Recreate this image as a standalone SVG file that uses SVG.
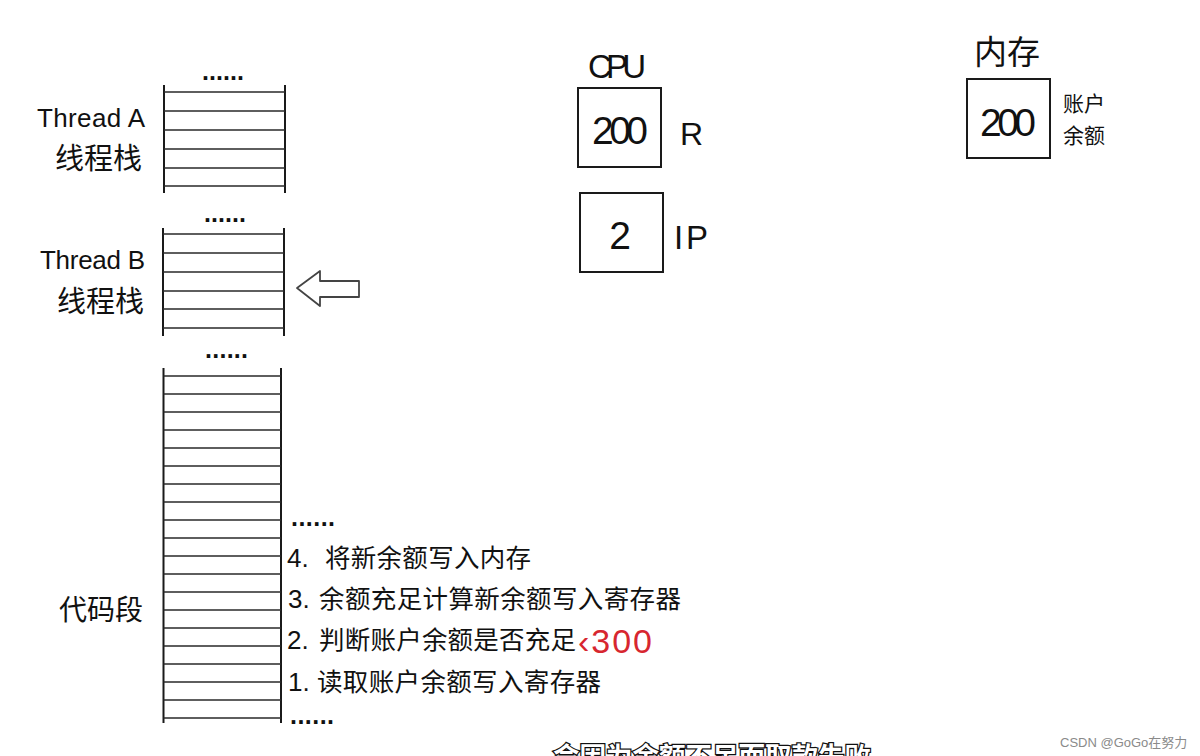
<svg xmlns="http://www.w3.org/2000/svg" width="1200" height="756" viewBox="0 0 1200 756">
<style>
.bg{fill:#ffffff}
.v{stroke:#1a1a1a;stroke-width:2;fill:none}
.h{stroke:#2a2a2a;stroke-width:1.6;fill:none}
.box{fill:#ffffff;stroke:#1a1a1a;stroke-width:2}
.lat{font-family:"Liberation Sans","DejaVu Sans",sans-serif;fill:#111}
.cjk{font-family:"Noto Sans CJK SC","Noto Sans",sans-serif;fill:#111}
.dots{font-family:"Liberation Sans",sans-serif;font-weight:bold;font-size:25px;fill:#111}
.step{font-family:"Liberation Sans","Noto Sans CJK SC",sans-serif;font-size:26px;fill:#111}
.stepc{font-family:"Noto Sans CJK SC",sans-serif;font-size:25.5px;fill:#111}
</style>
<rect class="bg" x="0" y="0" width="1200" height="756"/>

<g id="threadA">
  <text class="lat" x="37" y="127" font-size="26" textLength="108">Thread A</text>
  <text class="cjk" x="55" y="169" font-size="29">线程栈</text>
  <text class="dots" x="202" y="80" textLength="42">......</text>
  <line class="v" x1="164" y1="85" x2="164" y2="193"/>
  <line class="v" x1="285" y1="85" x2="285" y2="193"/>
  <path class="h" d="M164 92H285M164 111H285M164 130H285M164 149H285M164 168H285M164 186H285"/>
</g>

<g id="threadB">
  <text class="lat" x="40" y="269" font-size="26" textLength="105">Thread B</text>
  <text class="cjk" x="57" y="312" font-size="29">线程栈</text>
  <text class="dots" x="204" y="222" textLength="42">......</text>
  <line class="v" x1="163" y1="228" x2="163" y2="336"/>
  <line class="v" x1="284" y1="228" x2="284" y2="336"/>
  <path class="h" d="M163 234H284M163 253H284M163 272H284M163 291H284M163 309H284M163 328H284"/>
  <text class="dots" x="205" y="358" textLength="43">......</text>
</g>

<g id="code">
  <text class="cjk" x="59" y="620" font-size="28">代码段</text>
  <line class="v" x1="163.5" y1="368" x2="163.5" y2="723"/>
  <line class="v" x1="281" y1="368" x2="281" y2="723"/>
  <path class="h" d="M163.5 376H281M163.5 394H281M163.5 412H281M163.5 430H281M163.5 448H281M163.5 466H281M163.5 484H281M163.5 502H281M163.5 520H281M163.5 538H281M163.5 556H281M163.5 574H281M163.5 592H281M163.5 610H281M163.5 628H281M163.5 646H281M163.5 664H281M163.5 682H281M163.5 700H281M163.5 718H281"/>
  <text class="dots" x="291" y="526" textLength="44">......</text>
  <text class="step" x="287" y="567">4.</text>
  <text class="stepc" x="325" y="567" textLength="206" lengthAdjust="spacing">将新余额写入内存</text>
  <text class="step" x="288" y="608">3.</text>
  <text class="stepc" x="319" y="608" textLength="362" lengthAdjust="spacing">余额充足计算新余额写入寄存器</text>
  <text class="step" x="287" y="649">2.</text>
  <text class="stepc" x="319" y="649" textLength="257" lengthAdjust="spacing">判断账户余额是否充足</text>
  <text class="lat" x="578" y="653" font-size="34" style="fill:#d7262f" textLength="74">‹300</text>
  <text class="step" x="288" y="691">1.</text>
  <text class="stepc" x="317" y="691" textLength="284" lengthAdjust="spacing">读取账户余额写入寄存器</text>
  <text class="dots" x="290" y="724" textLength="44">......</text>
</g>

<g id="cpu">
  <text class="lat" x="588" y="78" font-size="33" textLength="58">CPU</text>
  <rect class="box" x="578" y="88" width="83" height="79"/>
  <text class="lat" x="620" y="144" font-size="39" text-anchor="middle" textLength="56">200</text>
  <text class="lat" x="680" y="145" font-size="32">R</text>
  <rect class="box" x="580" y="193" width="83" height="79"/>
  <text class="lat" x="620" y="249" font-size="39" text-anchor="middle">2</text>
  <text class="lat" x="674" y="249" font-size="33" textLength="34">IP</text>
</g>

<g id="memory">
  <text class="cjk" x="974" y="64" font-size="33">内存</text>
  <rect class="box" x="967" y="79" width="83" height="79"/>
  <text class="lat" x="1008" y="136" font-size="39" text-anchor="middle" textLength="56">200</text>
  <text class="cjk" x="1063" y="111" font-size="21">账户</text>
  <text class="cjk" x="1063" y="143" font-size="21">余额</text>
</g>

<g id="connectors">
  <path d="M297 288L320 271V281H359V297H320V306Z" fill="#ffffff" stroke="#444" stroke-width="1.8" stroke-linejoin="round"/>
</g>

<g id="caption">
  <text x="553" y="766" font-family="Noto Sans CJK SC,sans-serif" font-weight="bold" font-size="26.5" fill="#ffffff" stroke="#111" stroke-width="2.5" paint-order="stroke">会因为余额不足而取款失败</text>
  <text x="1060" y="747" font-family="Liberation Sans,Noto Sans CJK SC,sans-serif" font-size="13" fill="#8a8a8a">CSDN @GoGo在努力</text>
</g>
</svg>
